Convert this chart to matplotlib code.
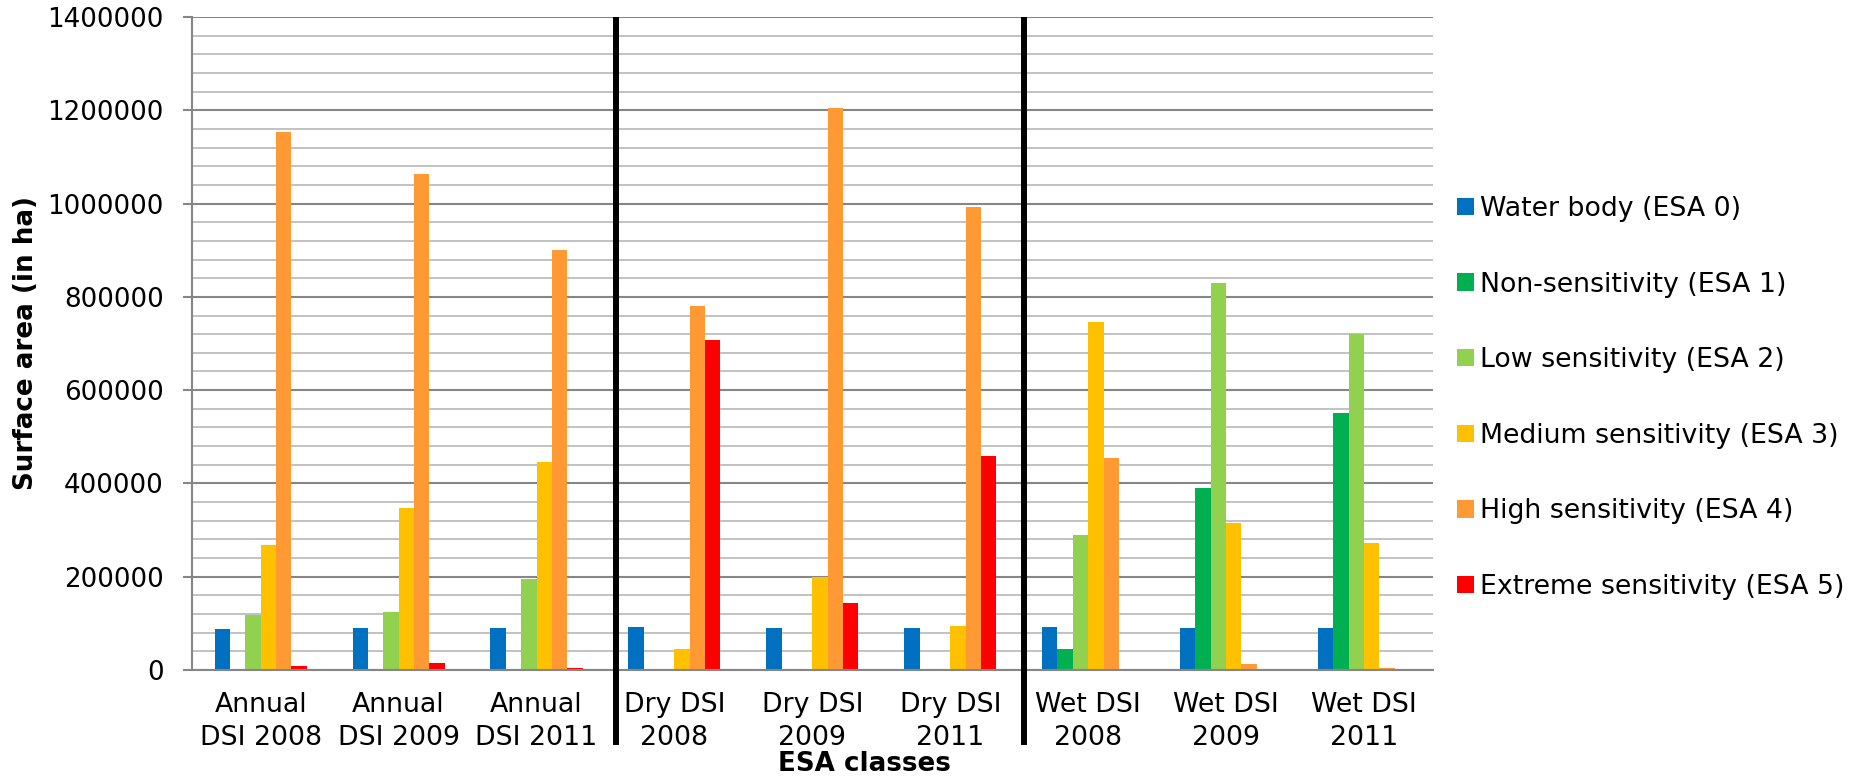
import numpy as np
import matplotlib
matplotlib.use("Agg")
import matplotlib.pyplot as plt
from matplotlib.ticker import MultipleLocator, StrMethodFormatter
from matplotlib.transforms import blended_transform_factory

# ---- data -------------------------------------------------------------
categories = ["Annual\nDSI 2008", "Annual\nDSI 2009", "Annual\nDSI 2011",
              "Dry DSI\n2008", "Dry DSI\n2009", "Dry DSI\n2011",
              "Wet DSI\n2008", "Wet DSI\n2009", "Wet DSI\n2011"]

water_body = [87000, 89000, 90000, 93000, 89000, 89000, 93000, 89000, 90000]
non_sensitivity = [0, 0, 0, 0, 0, 0, 45000, 391000, 550000]
low_sensitivity = [118000, 124000, 196000, 0, 3000, 0, 289000, 829000, 721000]
medium_sensitivity = [268000, 347000, 446000, 45000, 199000, 94000, 747000, 315000, 272000]
high_sensitivity = [1154000, 1063000, 901000, 780000, 1205000, 993000, 454000, 12500, 3800]
extreme_sensitivity = [8600, 14400, 3800, 707000, 143000, 459000, 0, 0, 0]

series_labels = ["Water body (ESA 0)", "Non-sensitivity (ESA 1)", "Low sensitivity (ESA 2)",
                 "Medium sensitivity (ESA 3)", "High sensitivity (ESA 4)",
                 "Extreme sensitivity (ESA 5)"]
series_values = [water_body, non_sensitivity, low_sensitivity,
                 medium_sensitivity, high_sensitivity, extreme_sensitivity]
series_colors = ["#0070C0", "#00B050", "#92D050", "#FFC000", "#FF9933", "#FF0000"]

# ---- figure -----------------------------------------------------------
plt.rcParams["font.family"] = ["DejaVu Sans"]
FS = 18.8
FS_TXT = 19.3

W, H = 1862, 777
fig = plt.figure(figsize=(W / 100, H / 100), dpi=100)
ax = fig.add_axes([191.7 / W, 1 - 670 / H, (1433 - 191.7) / W, (670 - 17) / H])

x = np.arange(len(categories))
bar_w = 0.1113
n = len(series_values)
for k, (vals, col, lab) in enumerate(zip(series_values, series_colors, series_labels)):
    ax.bar(x + (k - (n - 1) / 2) * bar_w, vals, width=bar_w, color=col,
           label=lab, zorder=3, linewidth=0)

ax.set_xlim(-0.5, len(categories) - 0.5)
ax.set_ylim(0, 1400000)

major_c = "#868686"
minor_c = "#BDBDBD"
ax.yaxis.set_major_locator(MultipleLocator(200000))
ax.yaxis.set_minor_locator(MultipleLocator(40000))
ax.yaxis.set_major_formatter(StrMethodFormatter("{x:.0f}"))
ax.grid(axis="y", which="major", color=major_c, linewidth=1.5, zorder=1)
ax.grid(axis="y", which="minor", color=minor_c, linewidth=1.3, zorder=0)
ax.set_axisbelow(True)

for side in ("top", "right"):
    ax.spines[side].set_visible(False)
ax.spines["left"].set_color(major_c)
ax.spines["left"].set_linewidth(1.5)
ax.spines["bottom"].set_color(major_c)
ax.spines["bottom"].set_linewidth(1.5)
ax.spines["bottom"].set_zorder(4)

ax.tick_params(axis="y", which="major", length=6.5, width=1.5, color=major_c,
               labelsize=FS, pad=13.5)
ax.tick_params(axis="y", which="minor", length=0)
ax.tick_params(axis="x", length=0, labelsize=FS_TXT, pad=16)
ax.set_xticks(x)
ax.set_xticklabels(categories, linespacing=1.35)

# group separators
trans = blended_transform_factory(ax.transData, ax.transAxes)
for sx in (2.576, 5.538):
    ax.plot([sx, sx], [1.0, -0.115], color="black", linewidth=4.3,
            transform=trans, clip_on=False, zorder=5, solid_capstyle="butt")

fig.text(26 / W, 1 - 343 / H, "Surface area (in ha)", rotation=90,
         fontsize=FS, fontweight="bold", ha="center", va="center")
fig.text(864 / W, 1 - 764 / H, "ESA classes", fontsize=FS, fontweight="bold",
         ha="center", va="center")

fig.legend(loc="center left", bbox_to_anchor=(1457 / W, 1 - 398 / H),
           frameon=False, fontsize=FS_TXT, handlelength=0.62, handleheight=0.62,
           handletextpad=0.25, labelspacing=1.85, borderpad=0, borderaxespad=0)

fig.savefig("out.png", dpi=100)
